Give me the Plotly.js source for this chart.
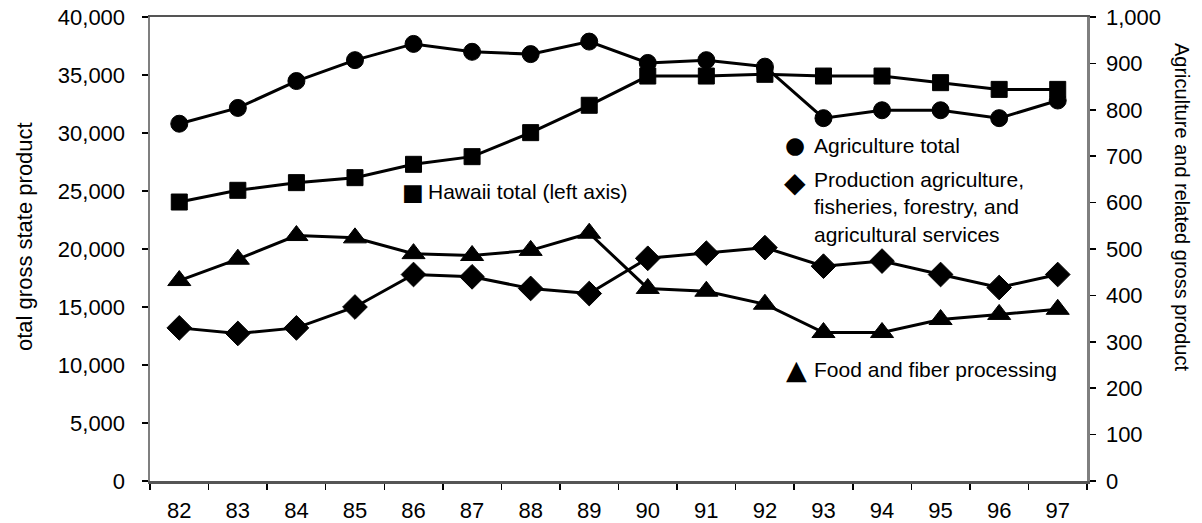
<!DOCTYPE html>
<html>
<head>
<meta charset="utf-8">
<script src="https://cdn.plot.ly/plotly-3.0.1.min.js"></script>
<style>html,body{margin:0;padding:0;background:#fff;}#chart{width:1202px;height:523px;}</style>
</head>
<body>
<div id="chart"></div>
<script>
const years = ['82','83','84','85','86','87','88','89','90','91','92','93','94','95','96','97'];
const hawaiiTotal = [24050, 25060, 25720, 26150, 27300, 27960, 30030, 32390, 34910, 34910, 35060, 34910, 34910, 34340, 33760, 33760];
const agricultureTotal = [770, 804, 862, 907, 942, 925, 920, 947, 901, 907, 893, 782, 799, 799, 782, 820];
const productionAg = [330, 318, 330, 375, 445, 440, 415, 404, 480, 491, 503, 463, 474, 445, 417, 445];
const foodFiber = [432, 478, 529, 524, 490, 486, 497, 534, 415, 409, 381, 320, 320, 348, 359, 370];

const FONT = 'Liberation Sans, Arial, DejaVu Sans, sans-serif';
const lineStyle = {color: '#000', width: 3};

function series(name, y, symbol, size, yaxis) {
  return {
    x: years, y: y, name: name, type: 'scatter', mode: 'lines+markers',
    yaxis: yaxis, line: lineStyle,
    marker: {symbol: symbol, size: size, color: '#000', line: {color: '#000', width: 1}},
    showlegend: false, cliponaxis: false
  };
}

const traces = [
  series('Hawaii total (left axis)', hawaiiTotal, 'square', 16, 'y'),
  series('Agriculture total', agricultureTotal, 'circle', 17, 'y2'),
  series('Production agriculture, fisheries, forestry, and agricultural services', productionAg, 'diamond', 19, 'y2'),
  series('Food and fiber processing', foodFiber, 'triangle-up', 20, 'y2')
];

const textFont = {family: FONT, size: 21, color: '#000'};
function label(text, x, y, anchor) {
  return {text: text, xref: 'paper', yref: 'paper', x: x, y: y, xanchor: anchor || 'left', yanchor: 'middle',
          showarrow: false, align: 'left', font: textFont};
}
function glyph(ch, x, y, size) {
  return {text: ch, xref: 'paper', yref: 'paper', x: x, y: y, xanchor: 'center', yanchor: 'middle',
          showarrow: false, font: {family: 'DejaVu Sans', size: size, color: '#000'}};
}

const annotations = [
  glyph('■', 0.2807, 0.623, 23),
  label('Hawaii total (left axis)', 0.2950, 0.623),
  glyph('●', 0.6884, 0.724, 23),
  label('Agriculture total', 0.7060, 0.724),
  glyph('◆', 0.6884, 0.644, 28),
  label('Production agriculture,<br>fisheries, forestry, and<br>agricultural services', 0.7060, 0.590),
  glyph('▲', 0.6905, 0.241, 27),
  label('Food and fiber processing', 0.7060, 0.241),
  {text: 'otal gross state product', xref: 'paper', yref: 'paper', x: -0.1345, y: 0.528,
   xanchor: 'center', yanchor: 'middle', textangle: -90, showarrow: false,
   font: {family: FONT, size: 22, color: '#000'}},
  {text: 'Agriculture and related gross product', xref: 'paper', yref: 'paper', x: 1.1014, y: 0.5905,
   xanchor: 'center', yanchor: 'middle', textangle: 90, showarrow: false,
   font: {family: FONT, size: 20, color: '#000'}}
];

const axisCommon = {
  showgrid: false, zeroline: false, showline: true, linecolor: '#7f7f7f', linewidth: 2.5,
  ticks: 'outside', ticklen: 6, tickcolor: '#000', tickwidth: 1.5,
  tickfont: {family: FONT, size: 22, color: '#000'}
};

const layout = {
  width: 1202, height: 523,
  margin: {l: 150, r: 115, t: 17, b: 42},
  paper_bgcolor: '#fff', plot_bgcolor: '#fff',
  showlegend: false,
  xaxis: Object.assign({}, axisCommon, {
    type: 'category', range: [-0.5, 15.5], tickson: 'boundaries', mirror: true,
    linecolor: '#555', ticklabelstandoff: 8
  }),
  yaxis: Object.assign({}, axisCommon, {
    range: [0, 40000], dtick: 5000, tick0: 0, tickformat: ',d', mirror: false,
    ticklabelstandoff: 12
  }),
  yaxis2: Object.assign({}, axisCommon, {
    range: [0, 1000], dtick: 100, tick0: 0, tickformat: ',d', overlaying: 'y', side: 'right',
    ticklabelstandoff: 6
  }),
  annotations: annotations
};

Plotly.newPlot('chart', traces, layout, {displayModeBar: false, staticPlot: true});
</script>
</body>
</html>
